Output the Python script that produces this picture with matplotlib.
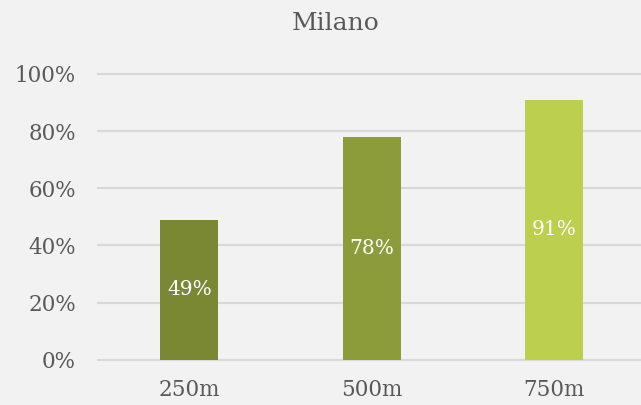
import matplotlib
matplotlib.use("Agg")
import matplotlib.pyplot as plt
from matplotlib.ticker import PercentFormatter

# Share of respondents by distance band, Milano
categories = ["250m", "500m", "750m"]
values = [0.49, 0.78, 0.91]
bar_colors = ["#7A8733", "#8D9C3B", "#BDCF4F"]
yticks = [0.0, 0.2, 0.4, 0.6, 0.8, 1.0]

bg = "#F2F2F2"
text_color = "#595959"
grid_color = "#D9D9D9"
font = ["DejaVu Serif"]

W, H = 641, 405
fig = plt.figure(figsize=(W / 100, H / 100), dpi=100, facecolor=bg)
ax = fig.add_axes([98.3 / W, (H - 359.7) / H, 1 - 98.3 / W, 285.7 / H])
ax.set_facecolor(bg)

x = list(range(len(categories)))
bars = ax.bar(x, values, width=0.318, color=bar_colors, zorder=3)

for rect, v in zip(bars, values):
    ax.text(rect.get_x() + rect.get_width() / 2, v / 2, f"{round(v * 100)}%",
            ha="center", va="center", color="white", fontsize=14.5,
            family=font, zorder=4)

ax.set_xlim(-0.5, 2.477)
ax.set_ylim(0, 1.0)
ax.set_yticks(yticks)
ax.yaxis.set_major_formatter(PercentFormatter(1.0, decimals=0))
ax.set_xticks(x)
ax.set_xticklabels(categories)

for y in yticks:
    ax.axhline(y, color=grid_color, lw=1.5, zorder=1, clip_on=False)

for s in ax.spines.values():
    s.set_visible(False)
ax.tick_params(length=0, colors=text_color, labelsize=15.5)
ax.tick_params(axis="y", pad=16)
ax.tick_params(axis="x", pad=14)
for lab in ax.get_xticklabels() + ax.get_yticklabels():
    lab.set_family(font)

fig.text(336 / W, 1 - 23 / H, "Milano", ha="center", va="center",
         fontsize=18, color=text_color, family=font)

fig.savefig("out.png", dpi=100, facecolor=bg)
